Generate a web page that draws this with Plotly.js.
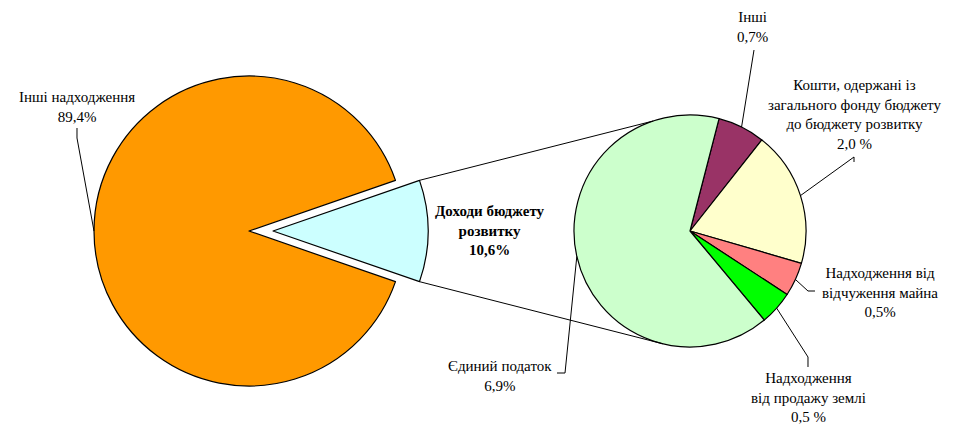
<!DOCTYPE html>
<html><head><meta charset="utf-8">
<script src="https://cdn.plot.ly/plotly-3.0.1.min.js"></script>
<style>
html,body{margin:0;padding:0;background:#fff}
#chart text, #chart tspan { font-family: 'Liberation Serif' !important; }
</style>
</head><body><div id="chart"></div>
<script>
// ---- data ----
const mainLabels = ['Доходи бюджету розвитку', 'Інші надходження'];
const mainValues = [10.6, 89.4];
const mainText = ['<b>Доходи бюджету<br>розвитку<br>10,6%</b>', 'Інші надходження<br>89,4%'];
const mainColors = ['#CCFFFF', '#FF9900'];

const detailLabels = ['Інші', 'Кошти, одержані із загального фонду бюджету до бюджету розвитку',
  'Надходження від відчуження майна', 'Надходження від продажу землі', 'Єдиний податок'];
const detailValues = [0.7, 2.0, 0.5, 0.5, 6.9];
const detailText = ['Інші<br>0,7%', 'Кошти, одержані із<br>загального фонду бюджету<br>до бюджету розвитку<br>2,0 %',
  'Надходження від<br>відчуження майна<br>0,5%', 'Надходження<br>від продажу землі<br>0,5 %', 'Єдиний податок<br>6,9%'];
const detailColors = ['#993366', '#FFFFCC', '#FF8080', '#00FF00', '#CCFFCC'];

// ---- geometry (pixels) ----
const W = 961, H = 427;
const px = x => x / W, py = y => 1 - y / H;
const sum = a => a.reduce((s, v) => s + v, 0);
const L = {cx: 249, cy: 231, r: 155, pull: 0.155};
const R = {cx: 690, cy: 231, r: 116};
const mainTotal = sum(mainValues);
const cyanSpan = mainValues[0] / mainTotal * 360;
const mainRotation = 90 - cyanSpan / 2;
const detailRotation = 14.5;
const detailTotal = sum(detailValues);
const rad = d => d * Math.PI / 180;
function ptOn(c, r, deg) { return [c.cx + r * Math.sin(rad(deg)), c.cy - r * Math.cos(rad(deg))]; }

const halfL = L.r * (1 + L.pull);
const mkFont = () => ({family: 'Liberation Serif', size: 15});

const traces = [
  {type: 'pie', labels: mainLabels, values: mainValues, sort: false, direction: 'clockwise',
   rotation: mainRotation, pull: [L.pull, 0], textinfo: 'none', hoverinfo: 'label+value',
   marker: {colors: mainColors, line: {color: '#000', width: 1.2}},
   domain: {x: [px(L.cx - halfL), px(L.cx + halfL)], y: [py(L.cy + halfL), py(L.cy - halfL)]}},
  {type: 'pie', labels: detailLabels, values: detailValues, sort: false, direction: 'clockwise',
   rotation: detailRotation, textinfo: 'none', hoverinfo: 'label+value',
   marker: {colors: detailColors, line: {color: '#000', width: 1.2}},
   domain: {x: [px(R.cx - R.r), px(R.cx + R.r)], y: [py(R.cy + R.r), py(R.cy - R.r)]}}
];

// slice mid angles
const mainMid = [];
{ let a = mainRotation; mainValues.forEach(v => { const s = v / mainTotal * 360; mainMid.push(a + s / 2); a += s; }); }
const detMid = [];
{ let a = detailRotation; detailValues.forEach(v => { const s = v / detailTotal * 360; detMid.push(a + s / 2); a += s; }); }

const shapes = [];
function poly(pts) {
  let d = pts.map((p, i) => (i ? 'L' : 'M') + px(p[0]).toFixed(5) + ',' + py(p[1]).toFixed(5)).join(' ');
  shapes.push({type: 'path', xref: 'paper', yref: 'paper', path: d, line: {color: '#000', width: 1}});
}
// connector lines between cyan slice and detail pie
const cyanC = {cx: L.cx + L.r * L.pull, cy: L.cy};
poly([ptOn(cyanC, L.r, 90 - cyanSpan / 2), ptOn(R, R.r, -18.5)]);
poly([ptOn(cyanC, L.r, 90 + cyanSpan / 2), ptOn(R, R.r, 193.5)]);

// leader lines
poly([ptOn(L, L.r, mainMid[1]), [77, 138], [77, 128]]);
poly([ptOn(R, R.r, detMid[0]), [754, 50]]);
poly([ptOn(R, R.r, detMid[1]), [854, 157], [854, 162]]);
poly([ptOn(R, R.r, detMid[2]), [808, 291], [815, 291]]);
poly([ptOn(R, R.r, detMid[3]), [808, 357], [808, 367]]);
poly([ptOn(R, R.r, detMid[4]), [565, 373], [557, 373]]);

// label positions (pixels)
const mainPos = [[490, 230], [77, 107]];
const detPos = [[752, 27], [854, 114], [880, 292], [808, 397], [500, 376]];
const annotations = [];
mainText.forEach((t, i) => annotations.push({xref: 'paper', yref: 'paper', x: px(mainPos[i][0]), y: py(mainPos[i][1]),
  text: t, showarrow: false, xanchor: 'center', yanchor: 'middle', font: mkFont()}));
detailText.forEach((t, i) => annotations.push({xref: 'paper', yref: 'paper', x: px(detPos[i][0]), y: py(detPos[i][1]),
  text: t, showarrow: false, xanchor: 'center', yanchor: 'middle', font: mkFont()}));

Plotly.newPlot('chart', traces, {
  width: W, height: H, margin: {l: 0, r: 0, t: 0, b: 0},
  paper_bgcolor: '#fff', plot_bgcolor: '#fff', showlegend: false,
  font: {family: 'Liberation Serif', size: 15, color: '#000'},
  shapes: shapes, annotations: annotations
}, {displayModeBar: false});
</script></body></html>
